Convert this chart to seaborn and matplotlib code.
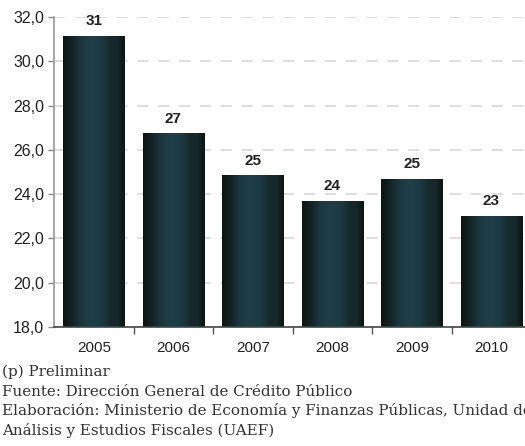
import numpy as np
import pandas as pd
import matplotlib
matplotlib.use("Agg")
import matplotlib.pyplot as plt
from matplotlib.colors import LinearSegmentedColormap
import seaborn as sns

years = ["2005", "2006", "2007", "2008", "2009", "2010"]
values = [31.14, 26.72, 24.82, 23.69, 24.68, 23.01]
labels = ["31", "27", "25", "24", "25", "23"]
footnotes = [
    "(p) Preliminar",
    "Fuente: Dirección General de Crédito Público",
    "Elaboración: Ministerio de Economía y Finanzas Públicas, Unidad de",
    "Análisis y Estudios Fiscales (UAEF)",
]

sns.set_theme(style="white")
plt.rcParams["font.family"] = ["Liberation Sans", "DejaVu Sans"]
plt.rcParams["lines.scale_dashes"] = False

df = pd.DataFrame({"year": years, "value": values})

fig = plt.figure(figsize=(5.25, 4.46), dpi=100)
W, H = 525, 446
ax = fig.add_axes([54 / W, (H - 327) / H, (531 - 54) / W, 310 / H])

sns.barplot(data=df, x="year", y="value", ax=ax, width=0.77,
            color="#1e3d45", saturation=1, zorder=3)

ax.set_xlim(-0.5, 5.5)
ax.set_ylim(18, 32)
ymin = ax.get_ylim()[0]

cmap = LinearSegmentedColormap.from_list("bar", [
    (0.00, "#0b1413"),
    (0.12, "#121f20"),
    (0.30, "#1b3840"),
    (0.45, "#1f3f48"),
    (0.62, "#1d3a42"),
    (0.78, "#16292d"),
    (0.88, "#17282a"),
    (1.00, "#0b1413"),
])
grad = np.linspace(0, 1, 256).reshape(1, -1)
for p in ax.patches:
    x0, w = p.get_x(), p.get_width()
    top = p.get_y() + p.get_height()
    ax.imshow(grad, extent=[x0, x0 + w, ymin, top], aspect="auto",
              cmap=cmap, zorder=4, interpolation="bilinear")
    p.set_edgecolor("none")

for i, (v, lab) in enumerate(zip(values, labels)):
    ax.annotate(lab, xy=(i, v), xytext=(0, 8), textcoords="offset points",
                ha="center", va="baseline", fontsize=11, fontweight="bold",
                color="#222222", zorder=6)

ax.set_xlim(-0.5, 5.5)
ax.set_ylim(18, 32)
yt = np.arange(18, 33, 2)
ax.set_yticks(yt)
ax.set_yticklabels([f"{t:.1f}".replace(".", ",") for t in yt])
ax.yaxis.grid(True, color="#d4d4d4", linestyle=(0, (8, 7)), linewidth=1.1, zorder=0)
ax.xaxis.grid(False)
ax.set_axisbelow(True)

ax.set_xlabel("")
ax.set_ylabel("")
ax.set_xticks(range(len(years)))
ax.set_xticklabels(years)
ax.set_xticks(np.arange(0.5, 5.5, 1), minor=True)
ax.tick_params(axis="x", which="major", length=0, pad=10, labelsize=11, labelcolor="#222222")
ax.tick_params(axis="x", which="minor", length=5, width=1, color="#555555", direction="out", bottom=True)
ax.tick_params(axis="y", which="major", length=4, width=1, color="#888888", direction="out",
               left=True, pad=3, labelsize=11.5, labelcolor="#222222")

for s in ["top", "right"]:
    ax.spines[s].set_visible(False)
ax.spines["left"].set_color("#999999")
ax.spines["left"].set_linewidth(1.2)
ax.spines["bottom"].set_color("#444444")
ax.spines["bottom"].set_linewidth(1.2)
ax.spines["bottom"].set_zorder(5)

ys = [372, 392, 411, 430]
for t, y in zip(footnotes, ys):
    fig.text(2 / W, (H - y) / H, t, ha="left", va="center", fontsize=10.9,
             family=["DejaVu Serif"], color="#333333")

fig.savefig("out.png", dpi=100)
